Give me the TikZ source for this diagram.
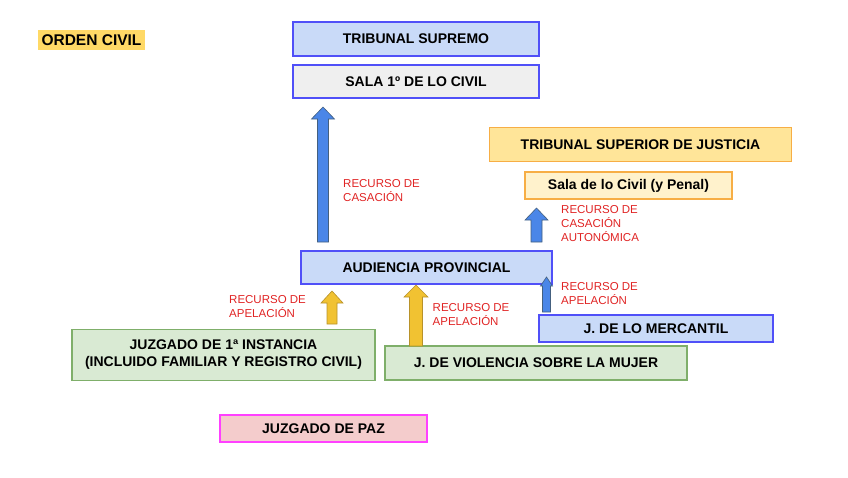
\documentclass[tikz,border=0pt]{standalone}
\usepackage{fontspec}
\setmainfont{Liberation Sans}
\usetikzlibrary{calc}
\usetikzlibrary{positioning}
\definecolor{boxblue}{HTML}{C9DAF8}
\definecolor{lineblue}{HTML}{5050F8}
\definecolor{salagray}{HTML}{EFEFEF}
\definecolor{tsjfill}{HTML}{FFE599}
\definecolor{salafill}{HTML}{FFF2CC}
\definecolor{lineorange}{HTML}{F7AE45}
\definecolor{greenfill}{HTML}{D9EAD3}
\definecolor{linegreen}{HTML}{7FAF6A}
\definecolor{pazfill}{HTML}{F4CCCC}
\definecolor{linepink}{HTML}{FF40FF}
\definecolor{arrblue}{HTML}{4A86E8}
\definecolor{arrblueline}{HTML}{44607F}
\definecolor{arryellow}{HTML}{F1C232}
\definecolor{arryellowline}{HTML}{B8922A}
\definecolor{labelred}{HTML}{E02424}
\definecolor{hilite}{HTML}{FFD966}
\tikzstyle{box}=[draw,line width=1.2pt,inner sep=0pt,align=center,font=\bfseries\fontsize{14}{17}\selectfont]
\tikzstyle{recurso}=[anchor=west,align=left,inner sep=0pt,text=labelred,font=\fontsize{11.5}{14}\selectfont]
% block arrow pointing up: style, from, to, half shaft, half head, head length
\newcommand{\blockup}[6]{%
  \draw[#1] let \p1=(#2), \p2=(#3) in
    (\x1-#4,\y1) -- (\x1-#4,\y2-#6) -- (\x1-#5,\y2-#6) -- (\x1,\y2)
    -- (\x1+#5,\y2-#6) -- (\x1+#4,\y2-#6) -- (\x1+#4,\y1) -- cycle;}
\begin{document}
\begin{tikzpicture}[x=1pt,y=-1pt]
\tikzstyle{bluebox}=[box,fill=boxblue,draw=lineblue]
\tikzstyle{orangebox}=[box,draw=lineorange]
\tikzstyle{greenbox}=[box,fill=greenfill,draw=linegreen]
\tikzstyle{bluearr}=[fill=arrblue,draw=arrblueline,line width=0.6pt]
\tikzstyle{yellowarr}=[fill=arryellow,draw=arryellowline,line width=0.6pt]
\useasboundingbox (0,0) rectangle (848,477);
\node [fill=hilite,minimum width=107pt,minimum height=20pt,inner sep=0pt,font=\bfseries\fontsize{15.5}{16}\selectfont] (orden) at (91.5,40) {ORDEN CIVIL};
% tribunal supremo
\node [bluebox,minimum width=246pt,minimum height=34pt] (ts) at (416,39) {TRIBUNAL SUPREMO};
\node [box,fill=salagray,draw=lineblue,minimum width=246pt,minimum height=33pt] (sala1) at (416,81.5) {SALA 1º DE LO CIVIL};
% tribunal superior de justicia
\node [orangebox,fill=tsjfill,minimum width=302pt,minimum height=34pt] (tsj) at (640.5,144.5) {TRIBUNAL SUPERIOR DE JUSTICIA};
\node [orangebox,fill=salafill,minimum width=207pt,minimum height=27pt] (salacivil) at (628.5,185.5) {Sala de lo Civil (y Penal)};
% audiencia y juzgados
\node [bluebox,minimum width=251pt,minimum height=33pt] (ap) at (426.5,267.5) {AUDIENCIA PROVINCIAL};
\node [bluebox,minimum width=234pt,minimum height=27pt] (merc) at (656,328.5) {J. DE LO MERCANTIL};
\node [greenbox,minimum width=303pt,minimum height=51pt] (jdi) at (223.5,355) {JUZGADO DE  1ª INSTANCIA\\(INCLUIDO FAMILIAR Y REGISTRO CIVIL)};
\node [greenbox,minimum width=302pt,minimum height=34pt] (jv) at (536,363) {J. DE VIOLENCIA SOBRE LA MUJER};
\node [box,fill=pazfill,draw=linepink,minimum width=207pt,minimum height=27pt] (paz) at (323.5,428.5) {JUZGADO DE PAZ};
% arrow ends
\coordinate (cas1) at (323,242);
\coordinate (cas2) at (323,107);
\coordinate (aut1) at (536.5,242);
\coordinate (aut2) at (536.5,208);
\coordinate (mer1) at (546.5,312);
\coordinate (mer2) at (546.5,277);
\coordinate (ins1) at (332,324);
\coordinate (ins2) at (332,291);
\coordinate (vio1) at (416,346);
\coordinate (vio2) at (416,285);
\blockup{bluearr}{cas1}{cas2}{5.5pt}{11.5pt}{12pt}
\blockup{bluearr}{aut1}{aut2}{5.5pt}{11.5pt}{12pt}
\blockup{bluearr}{mer1}{mer2}{4pt}{6pt}{9pt}
\blockup{yellowarr}{ins1}{ins2}{5pt}{11pt}{12pt}
\blockup{yellowarr}{vio1}{vio2}{6.5pt}{12pt}{12pt}
% recursos
\node [recurso] (lcas) at (343,191) {RECURSO DE\\CASACIÓN};
\node [recurso] (laut) at (561,224) {RECURSO DE\\CASACIÓN\\AUTONÓMICA};
\node [recurso] (lmer) at (561,294) {RECURSO DE\\APELACIÓN};
\node [recurso] (lins) at (229,306.5) {RECURSO DE\\APELACIÓN};
\node [recurso] (lvio) at (432.5,314.5) {RECURSO DE\\APELACIÓN};
\end{tikzpicture}
\end{document}
